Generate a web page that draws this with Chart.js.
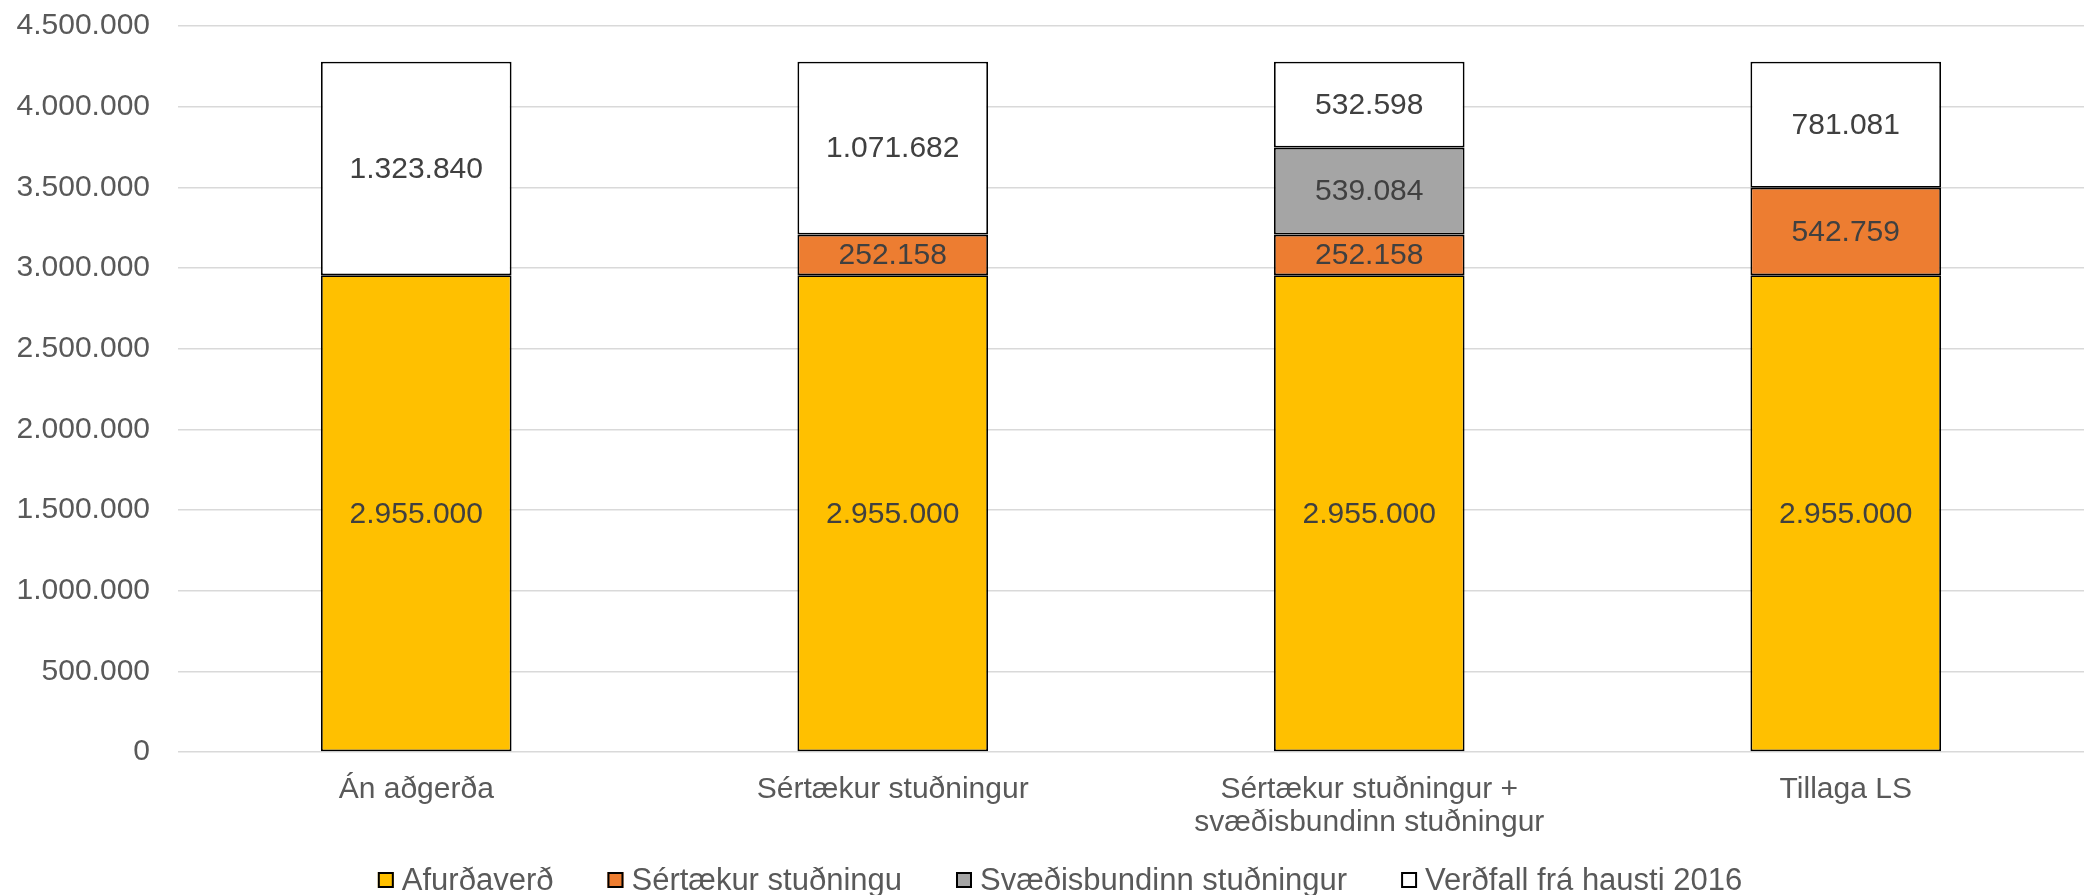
<!DOCTYPE html>
<html>
<head>
<meta charset="utf-8">
<script src="https://cdn.jsdelivr.net/npm/chart.js@4/dist/chart.umd.min.js"></script>
<style>
  html, body { margin: 0; padding: 0; background: #fff; }
  canvas { display: block; }
</style>
</head>
<body>
<canvas id="chart" width="2084" height="895"></canvas>
<script>
const categories = [
    'Án aðgerða',
    'Sértækur stuðningur',
    ['Sértækur stuðningur +', 'svæðisbundinn stuðningur'],
    'Tillaga LS'
];

const afurdaverd = [2955000, 2955000, 2955000, 2955000];
const sertaekur  = [null, 252158, 252158, 542759];
const svaedis    = [null, null, 539084, null];
const verdfall   = [1323840, 1071682, 532598, 781081];

const seriesNames = ['Afurðaverð', 'Sértækur stuðningu', 'Svæðisbundinn stuðningur', 'Verðfall frá hausti 2016'];

const yMax  = 4500000;
const yStep = 500000;

const FONT = '"Liberation Sans", Arial, sans-serif';

// 4500000 -> "4.500.000"
const formatNum = (v) => String(v).replace(/\B(?=(\d{3})+(?!\d))/g, '.');

// values written in the middle of each stacked piece
const segmentLabels = {
    id: 'segmentLabels',
    afterDatasetsDraw(chart) {
        const ctx = chart.ctx;
        ctx.save();
        ctx.font = '30px ' + FONT;
        ctx.fillStyle = '#404040';
        ctx.textAlign = 'center';
        ctx.textBaseline = 'middle';
        chart.data.datasets.forEach((ds, i) => {
            chart.getDatasetMeta(i).data.forEach((bar, j) => {
                const v = ds.data[j];
                if (v == null) return;
                const p = bar.getProps(['x', 'y', 'base'], true);
                ctx.fillText(formatNum(v), p.x, (p.y + p.base) / 2 + 1);
            });
        });
        ctx.restore();
    }
};

// excel-like legend: small box, tight gap to the text, wide gap between items
const bottomLegend = {
    id: 'bottomLegend',
    afterDraw(chart) {
        const ctx = chart.ctx;
        const box = 16, gap = 8, spacing = 54;
        const centerX = 1060, centerY = 880;
        ctx.save();
        ctx.font = '31px ' + FONT;
        ctx.textBaseline = 'middle';
        ctx.textAlign = 'left';
        const items = chart.data.datasets.map(ds => ({
            text: ds.label,
            fill: ds.backgroundColor,
            w: box + gap + ctx.measureText(ds.label).width
        }));
        const total = items.reduce((s, it) => s + it.w, 0) + spacing * (items.length - 1);
        let x = centerX - total / 2;
        items.forEach(it => {
            ctx.fillStyle = it.fill;
            ctx.fillRect(x, centerY - box / 2, box, box);
            ctx.strokeStyle = '#000000';
            ctx.lineWidth = 2;
            ctx.strokeRect(x + 1, centerY - box / 2 + 1, box - 2, box - 2);
            ctx.fillStyle = '#595959';
            ctx.fillText(it.text, x + box + gap, centerY + 1);
            x += it.w + spacing;
        });
        ctx.restore();
    }
};

const makeSet = (label, data, color) => ({
    label: label,
    data: data,
    backgroundColor: color,
    borderColor: '#000000',
    borderWidth: 1.8,
    borderSkipped: false,
    categoryPercentage: 1.0,
    barPercentage: 0.4
});

new Chart(document.getElementById('chart'), {
    type: 'bar',
    data: {
        labels: categories,
        datasets: [
            makeSet(seriesNames[0], afurdaverd, '#FFC000'),
            makeSet(seriesNames[1], sertaekur,  '#ED7D31'),
            makeSet(seriesNames[2], svaedis,    '#A5A5A5'),
            makeSet(seriesNames[3], verdfall,   '#FFFFFF')
        ]
    },
    options: {
        responsive: false,
        animation: false,
        devicePixelRatio: 1,
        layout: {
            padding: { top: 26, left: 14, right: 0, bottom: 53 }
        },
        scales: {
            x: {
                stacked: true,
                grid: { display: false, drawTicks: false },
                border: { display: false },
                ticks: {
                    color: '#595959',
                    padding: 21,
                    font: { family: FONT, size: 30, lineHeight: 1.1 }
                },
                afterFit: (scale) => { scale.height = 90; }
            },
            y: {
                stacked: true,
                min: 0,
                max: yMax,
                grid: {
                    color: '#d9d9d9',
                    lineWidth: 1.5,
                    drawTicks: true,
                    tickLength: 28,
                    tickColor: 'rgba(0,0,0,0)'
                },
                border: { display: false },
                ticks: {
                    stepSize: yStep,
                    color: '#595959',
                    padding: 0,
                    font: { family: FONT, size: 30 },
                    callback: (value) => formatNum(value)
                },
                afterFit: (scale) => { scale.width = 164; }
            }
        },
        plugins: {
            legend: { display: false },
            tooltip: { enabled: false }
        }
    },
    plugins: [segmentLabels, bottomLegend]
});
</script>
</body>
</html>
